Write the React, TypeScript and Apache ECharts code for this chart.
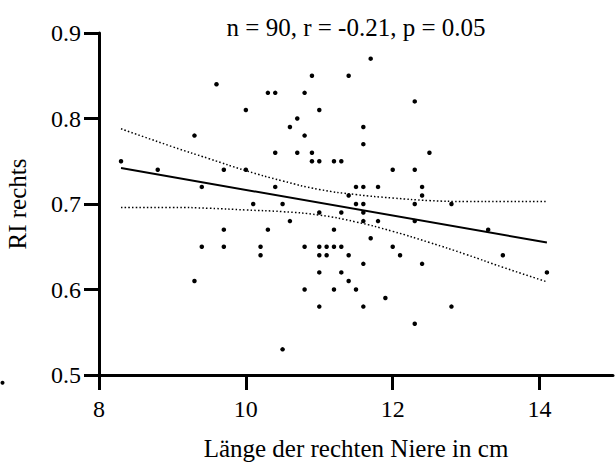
import React, { useEffect, useRef } from "react";
import * as echarts from "echarts";

// Kidney length (cm) and RI values
const kidneyLength = [
  9.6, 10.0, 9.3, 8.3, 8.8, 9.7, 10.0, 9.4, 10.1, 11.7,
  10.9, 11.4, 10.3, 10.4, 10.8, 11.0, 10.7, 10.6, 11.6, 10.8,
  11.6, 10.4, 10.7, 10.9, 10.9, 11.0, 11.2, 11.3, 12.0, 10.4,
  11.5, 11.6, 11.8, 11.4, 10.5, 11.5, 11.6, 12.3, 12.5, 12.3,
  12.4, 12.4, 12.3, 12.8, 9.7, 9.4, 9.7, 10.2, 10.2, 9.3,
  11.0, 10.6, 10.3, 11.2, 10.8, 11.0, 11.1, 11.2, 11.0, 11.1,
  11.0, 10.8, 11.2, 11.0, 10.5, 11.3, 11.6, 11.6, 11.8, 11.7,
  11.3, 12.0, 11.4, 12.1, 11.6, 11.3, 11.4, 11.5, 11.9, 11.6,
  12.3, 13.3, 13.5, 12.4, 14.1, 12.8, 12.3,
];
const riRight = [
  0.84, 0.81, 0.78, 0.75, 0.74, 0.74, 0.74, 0.72, 0.70, 0.87,
  0.85, 0.85, 0.83, 0.83, 0.83, 0.81, 0.80, 0.79, 0.79, 0.78,
  0.77, 0.76, 0.76, 0.76, 0.75, 0.75, 0.75, 0.75, 0.74, 0.72,
  0.72, 0.72, 0.72, 0.71, 0.70, 0.70, 0.70, 0.82, 0.76, 0.74,
  0.72, 0.71, 0.70, 0.70, 0.67, 0.65, 0.65, 0.65, 0.64, 0.61,
  0.69, 0.68, 0.67, 0.67, 0.65, 0.65, 0.65, 0.65, 0.64, 0.64,
  0.62, 0.60, 0.60, 0.58, 0.53, 0.69, 0.69, 0.68, 0.68, 0.66,
  0.65, 0.65, 0.64, 0.64, 0.63, 0.62, 0.61, 0.60, 0.59, 0.58,
  0.68, 0.67, 0.64, 0.63, 0.62, 0.58, 0.56,
];

// Regression line end points
const fitX = [8.3, 14.1];
const fitY = [0.742, 0.655];

// Confidence band
const bandX = [8.3, 9.0, 9.5, 10.0, 10.5, 11.0, 11.5, 12.0, 12.5, 13.0, 13.5, 14.1];
const bandUpper = [0.788, 0.767, 0.753, 0.739, 0.727, 0.717, 0.711, 0.707, 0.704, 0.703, 0.703, 0.703];
const bandLower = [0.696, 0.696, 0.695, 0.693, 0.691, 0.687, 0.679, 0.668, 0.655, 0.641, 0.626, 0.609];

const xTickValues = [8, 10, 12, 14];
const xRange = { min: 8, max: 15 };
const yTicks = { min: 0.5, max: 0.9, interval: 0.1 };

const titleText = "n = 90, r = -0.21, p = 0.05";
const xName = "Länge der rechten Niere in cm";
const yName = "RI rechts";

const FONT = "'Liberation Serif', 'Times New Roman', serif";

export default function App() {
  const ref = useRef<HTMLDivElement>(null);

  useEffect(() => {
    if (!ref.current) return;
    const chart = echarts.init(ref.current, undefined, { renderer: "svg" });
    const zip = (a: number[], b: number[]) => a.map((v, i) => [v, b[i]]);
    const axisLine = { show: true, onZero: false, lineStyle: { color: "#000", width: 3 } };
    const tickStyle = { color: "#000", width: 3 };
    const dotted = { color: "#000", width: 1.5, type: [1.5, 2.2] as any };

    chart.setOption({
      animation: false,
      backgroundColor: "#fff",
      textStyle: { fontFamily: FONT },
      grid: { left: 99, right: 3, top: 33, bottom: 88, containLabel: false, outerBoundsMode: "none" },
      graphic: [
        {
          type: "text",
          x: 356,
          y: 27,
          style: {
            text: titleText,
            fontFamily: FONT,
            fontSize: 25,
            fill: "#000",
            textAlign: "center",
            textVerticalAlign: "middle",
          },
        },
        { type: "circle", shape: { cx: 2.5, cy: 382.7, r: 2 }, style: { fill: "#000" } },
      ],
      xAxis: {
        type: "value",
        min: xRange.min,
        max: xRange.max,
        name: xName,
        nameLocation: "middle",
        nameGap: 61,
        nameTextStyle: { fontFamily: FONT, fontSize: 25, color: "#000" },
        axisLine,
        axisTick: { show: true, length: 15, customValues: xTickValues, lineStyle: tickStyle },
        splitLine: { show: false },
        axisLabel: {
          fontFamily: FONT,
          fontSize: 24,
          color: "#000",
          margin: 22,
          customValues: xTickValues,
          formatter: (v: number) => String(v),
        },
      },
      yAxis: {
        type: "value",
        min: yTicks.min,
        max: yTicks.max,
        interval: yTicks.interval,
        name: yName,
        nameLocation: "middle",
        nameGap: 69,
        nameTextStyle: { fontFamily: FONT, fontSize: 25, color: "#000" },
        axisLine,
        axisTick: { show: true, length: 15, lineStyle: tickStyle },
        splitLine: { show: false },
        axisLabel: {
          fontFamily: FONT,
          fontSize: 24,
          color: "#000",
          margin: 18,
          formatter: (v: number) => v.toFixed(1),
        },
      },
      series: [
        {
          type: "line",
          data: zip(bandX, bandUpper),
          smooth: true,
          symbol: "none",
          lineStyle: dotted,
          silent: true,
        },
        {
          type: "line",
          data: zip(bandX, bandLower),
          smooth: true,
          symbol: "none",
          lineStyle: dotted,
          silent: true,
        },
        {
          type: "line",
          data: zip(fitX, fitY),
          symbol: "none",
          lineStyle: { color: "#000", width: 2 },
          silent: true,
        },
        {
          type: "scatter",
          data: zip(kidneyLength, riRight),
          symbol: "circle",
          symbolSize: 4.5,
          itemStyle: { color: "#000", opacity: 1 },
        },
      ],
    });
    return () => chart.dispose();
  }, []);

  return (
    <div
      ref={ref}
      style={{ position: "absolute", left: 0, top: 0, width: 616, height: 463 }}
    />
  );
}
